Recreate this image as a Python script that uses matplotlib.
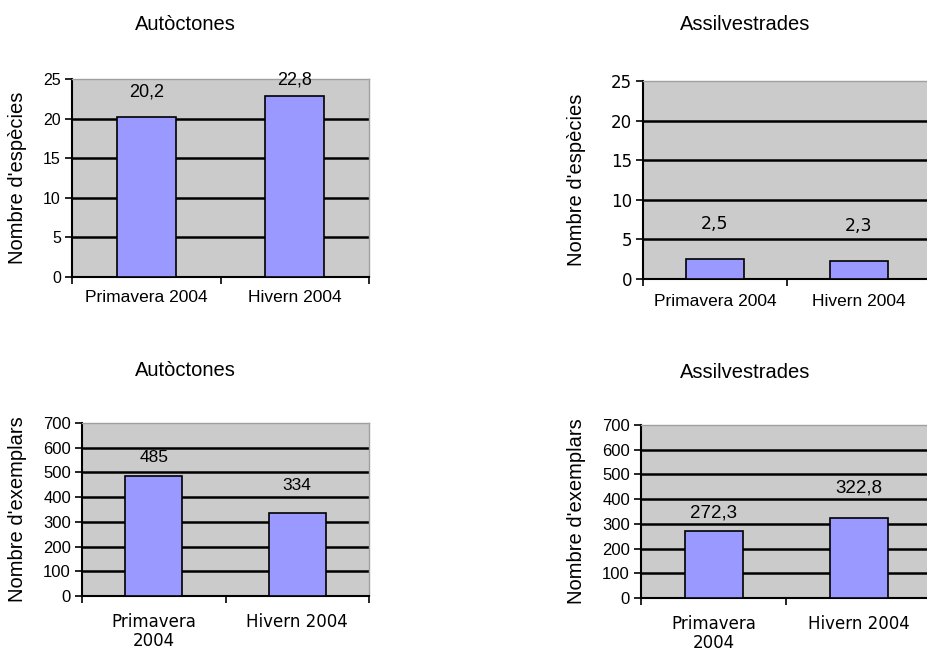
import matplotlib.pyplot as plt

# data
periods = ["Primavera 2004", "Hivern 2004"]
periods_wrapped = ["Primavera\n2004", "Hivern 2004"]
titles = ["Autòctones", "Assilvestrades", "Autòctones", "Assilvestrades"]
ylabels = ["Nombre d'espècies", "Nombre d'espècies", "Nombre d'exemplars", "Nombre d'exemplars"]
especies_aut = [20.2, 22.8]
especies_ass = [2.5, 2.3]
exemplars_aut = [485, 334]
exemplars_ass = [272.3, 322.8]
labels_especies_aut = ["20,2", "22,8"]
labels_especies_ass = ["2,5", "2,3"]
labels_exemplars_aut = ["485", "334"]
labels_exemplars_ass = ["272,3", "322,8"]

W, H = 927, 653
fig = plt.figure(figsize=(W / 100, H / 100), dpi=100)
plt.rcParams['font.family'] = ['Liberation Sans', 'DejaVu Sans']

def px_axes(l, t, r, b):
    return fig.add_axes([l / W, 1 - b / H, (r - l) / W, (b - t) / H])

# axes boxes in pixels (left, top, right, bottom)
boxes = [(72, 79, 369, 277), (643, 81, 931, 279), (82, 423, 369, 596), (641, 425, 931, 598)]
values = [especies_aut, especies_ass, exemplars_aut, exemplars_ass]
texts = [labels_especies_aut, labels_especies_ass, labels_exemplars_aut, labels_exemplars_ass]
xlabels = [periods, periods, periods_wrapped, periods_wrapped]
ymax = [25, 25, 700, 700]
ystep = [5, 5, 100, 100]
label_off = [[25, 16], [35, 35], [19, 28], [18, 30]]  # px above bar top
label_size = [13, 12.5, 12.5, 13.5]
label_font = ['Liberation Sans', 'DejaVu Sans', 'Liberation Sans', 'Liberation Sans']
title_pos = [(185, 25), (745, 25), (185, 370), (745, 372)]
ylabel_x = [18, 577, 18, 577]
ytick_font = ['Liberation Sans', 'DejaVu Sans', 'Liberation Sans', 'Liberation Sans']
ytick_size = [11.5, 12, 12, 12]
xtick_font = ['Liberation Sans', 'Liberation Sans', 'DejaVu Sans', 'DejaVu Sans']
xtick_size = [12.5, 12.5, 12, 12]
xtick_pad = [9, 11, 12, 12]

for i in range(4):
    ax = px_axes(*boxes[i])
    ax.set_facecolor('#CBCBCB')
    x = range(len(values[i]))
    ax.bar(x, values[i], width=0.4, color='#9999FF', edgecolor='black', linewidth=1.2, zorder=3)
    ax.set_xlim(-0.5, 1.5)
    ax.set_ylim(0, ymax[i])
    ticks = list(range(0, ymax[i] + 1, ystep[i]))
    ax.set_yticks(ticks)
    ax.set_yticklabels([str(t) for t in ticks], fontsize=ytick_size[i],
                       family=[ytick_font[i], 'DejaVu Sans'])
    for t in ticks[1:-1]:
        ax.axhline(t, color='black', linewidth=1.8, zorder=1)
    ax.set_xticks([0, 1])
    ax.set_xticklabels(xlabels[i], fontsize=xtick_size[i], linespacing=1.1,
                       family=[xtick_font[i], 'DejaVu Sans'])
    ax.set_xticks([-0.5, 0.5, 1.5], minor=True)
    ax.tick_params(axis='x', which='major', length=0, pad=xtick_pad[i])
    ax.tick_params(axis='x', which='minor', length=5, width=1.2, direction='out')
    ax.tick_params(axis='y', length=5, width=1.2, direction='out', pad=3)
    for s in ['left', 'bottom']:
        ax.spines[s].set_color('black')
        ax.spines[s].set_linewidth(1.5)
    for s in ['top', 'right']:
        ax.spines[s].set_color('#A0A0A0')
        ax.spines[s].set_linewidth(1)
    for xi, v, s, off in zip(x, values[i], texts[i], label_off[i]):
        ax.annotate(s, (xi, v), xytext=(0, off * 0.72), textcoords='offset points',
                    ha='center', va='center', fontsize=label_size[i],
                    family=[label_font[i], 'DejaVu Sans'])
    fig.text(title_pos[i][0] / W, 1 - title_pos[i][1] / H, titles[i],
             ha='center', va='center', fontsize=14.5)
    cy = (boxes[i][1] + boxes[i][3]) / 2
    fig.text(ylabel_x[i] / W, 1 - cy / H, ylabels[i], rotation=90,
             ha='center', va='center', fontsize=14.5)

fig.savefig('out.png', dpi=100)
